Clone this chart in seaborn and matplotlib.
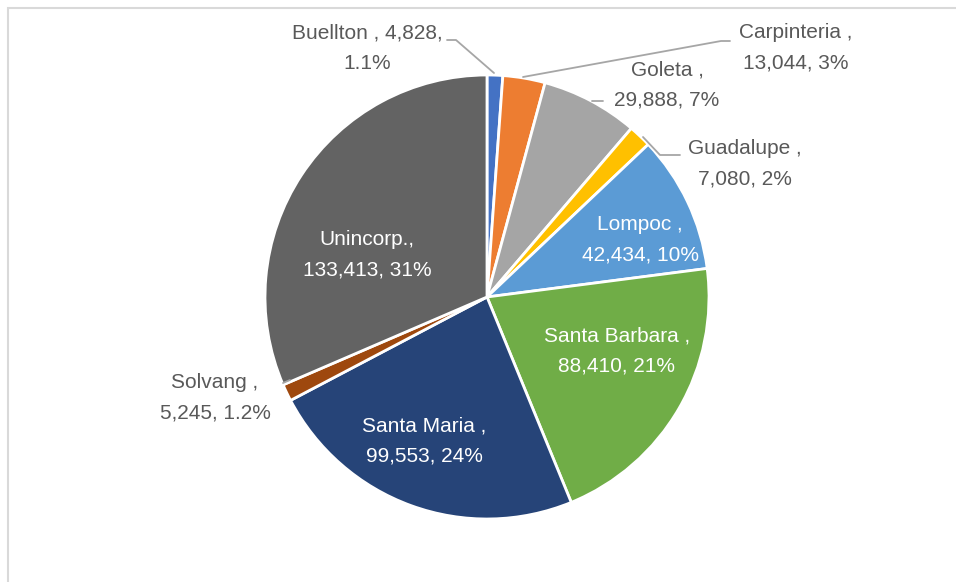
import matplotlib.pyplot as plt
import seaborn as sns
from matplotlib.patches import Rectangle

# ===================== 数据 =====================
cities = ["Buellton", "Carpinteria", "Goleta", "Guadalupe", "Lompoc",
          "Santa Barbara", "Santa Maria", "Solvang", "Unincorp."]
population = [4828, 13044, 29888, 7080, 42434, 88410, 99553, 5245, 133413]
pct_labels = ["1.1%", "3%", "7%", "2%", "10%", "21%", "24%", "1.2%", "31%"]
colors = ["#4472C4", "#ED7D31", "#A5A5A5", "#FFC000", "#5B9BD5",
          "#70AD47", "#264478", "#9E480E", "#636363"]

sns.set_theme(style="white")
plt.rcParams["font.family"] = ["Liberation Sans", "DejaVu Sans"]

W, H = 956, 582
cx, cy, R = 487, 297, 222  # 饼图中心与半径（像素）

fig = plt.figure(figsize=(W / 100, H / 100), dpi=100)
ax = fig.add_axes([0, 0, 1, 1])

ax.pie(population, colors=colors, startangle=90, counterclock=False,
       radius=1, center=(0, 0), frame=True,
       wedgeprops=dict(edgecolor="white", linewidth=2))
ax.set_xlim(-cx / R, (W - cx) / R)
ax.set_ylim((cy - H) / R, cy / R)
ax.axis("off")


def px(x, y):
    return (x - cx) / R, (cy - y) / R


def fmt_label(i):
    name = cities[i]
    first = f"{name}," if name == "Unincorp." else f"{name} ,"
    return f"{first}\n{population[i]:,}, {pct_labels[i]}"


# 标签位置（像素，文本中心）
label_pos = {
    "Buellton": (367, 48), "Carpinteria": (796, 48), "Goleta": (667, 85),
    "Guadalupe": (745, 164), "Lompoc": (640, 240), "Santa Barbara": (617, 351),
    "Santa Maria": (424, 441), "Solvang": (215, 398), "Unincorp.": (367, 255),
}
inside = {"Lompoc", "Santa Barbara", "Santa Maria", "Unincorp."}

for i, name in enumerate(cities):
    x, y = px(*label_pos[name])
    txt = fmt_label(i)
    if name == "Buellton":
        txt = f"{name} , {population[i]:,},\n{pct_labels[i]}"
    ax.text(x, y, txt, ha="center", va="center", fontsize=15, linespacing=1.75,
            color="white" if name in inside else "#595959")

# 引导线
leaders = [
    [(447, 40), (456, 40), (494, 73)],
    [(730, 41), (721, 41), (523, 77)],
    [(603, 101), (592, 101)],
    [(643, 137), (660, 155), (680, 155)],
    [(283, 383), (290, 380)],
]
for pts in leaders:
    xs, ys = zip(*[px(a, b) for a, b in pts])
    ax.plot(xs, ys, color="#A6A6A6", linewidth=1.3)

# 外框
fig.patches.append(Rectangle((8 / W, -0.1), 1.2, 1.1 - 8 / H, transform=fig.transFigure,
                             fill=False, edgecolor="#D9D9D9", linewidth=1.5))

fig.savefig("out.png", dpi=100)
